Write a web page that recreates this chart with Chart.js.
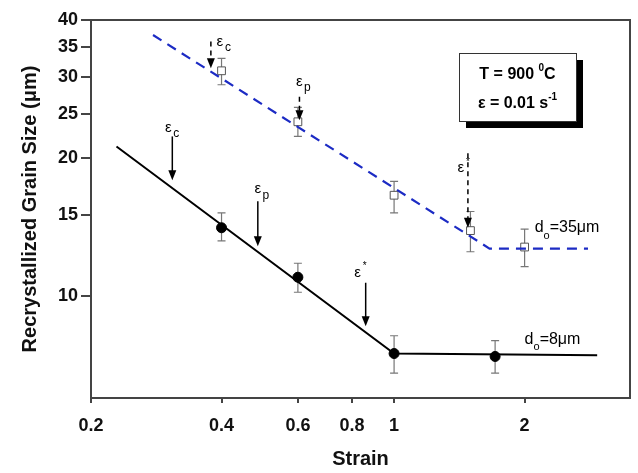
<!DOCTYPE html>
<html>
<head>
<meta charset="utf-8">
<script src="https://cdn.jsdelivr.net/npm/chart.js@4.4.1/dist/chart.umd.min.js"></script>
<style>
  body { margin: 0; background: #fff; }
  #box { width: 638px; height: 473px; }
</style>
</head>
<body>
<div id="box"><canvas id="grafico"></canvas></div>
<script>
// valores (escala log-log)
const xTicks = [0.2, 0.4, 0.6, 0.8, 1, 2];
const yTicks = [10, 15, 20, 25, 30, 35, 40];

// d0 = 8 um (pontos cheios + reta preta)
const strain8 = [0.4, 0.6, 1, 1.71];
const size8 = [14.1, 11.0, 7.5, 7.39];
const err8Low = [13.2, 10.2, 6.8, 6.8];
const err8High = [15.2, 11.8, 8.2, 8.0];
const fit8X = [0.229, 1, 2.94];
const fit8Y = [21.2, 7.5, 7.44];

// d0 = 35 um (quadrados abertos + tracejado azul)
const strain35 = [0.4, 0.6, 1, 1.5, 2];
const size35 = [31.0, 24.0, 16.6, 13.9, 12.8];
const err35Low = [28.9, 22.3, 15.2, 12.5, 11.6];
const err35High = [33.0, 25.8, 17.8, 15.3, 14.0];
const fit35X = [0.278, 1.66, 2.8];
const fit35Y = [37.1, 12.7, 12.7];

// setas (eps_c, eps_p, eps*)
const arrowX = [0.308, 0.485, 0.86, 0.378, 0.605, 1.48];
const arrowFrom = [22.3, 16.1, 10.7, 35.9, 27.2, 20.5];
const arrowTo = [17.9, 12.85, 8.6, 31.4, 24.2, 14.1];
const arrowSub = ['c', 'p', '*', 'c', 'p', '*'];
const arrowDashed = [false, false, false, true, true, true];

const pares = (xs, ys) => xs.map((x, i) => ({ x: x, y: ys[i] }));

// barras de erro
const barrasErro = {
  id: 'barrasErro',
  beforeDatasetsDraw(chart) {
    const ctx = chart.ctx;
    const sx = chart.scales.x, sy = chart.scales.y;
    const grupos = [[strain8, err8Low, err8High], [strain35, err35Low, err35High]];
    ctx.save();
    ctx.strokeStyle = '#777';
    ctx.lineWidth = 1.2;
    grupos.forEach(g => {
      g[0].forEach((x, i) => {
        const px = sx.getPixelForValue(x);
        const y1 = sy.getPixelForValue(g[1][i]);
        const y2 = sy.getPixelForValue(g[2][i]);
        ctx.beginPath();
        ctx.moveTo(px, y1); ctx.lineTo(px, y2);
        ctx.moveTo(px - 4, y1); ctx.lineTo(px + 4, y1);
        ctx.moveTo(px - 4, y2); ctx.lineTo(px + 4, y2);
        ctx.stroke();
      });
    });
    ctx.restore();
  }
};

// moldura, setas, textos e caixa
const anotacoes = {
  id: 'anotacoes',
  afterDatasetsDraw(chart) {
    const ctx = chart.ctx;
    const a = chart.chartArea;
    const sx = chart.scales.x, sy = chart.scales.y;
    ctx.save();

    // moldura
    ctx.strokeStyle = '#444';
    ctx.lineWidth = 2;
    ctx.strokeRect(a.left, a.top, a.right - a.left, a.bottom - a.top);

    // setas
    const offs = [[-4, -9], [0, -12], [-8, -10], [9, 0], [0, -15], [-7, 15]];
    arrowX.forEach((x, i) => {
      const px = sx.getPixelForValue(x);
      const y1 = sy.getPixelForValue(arrowFrom[i]);
      const y2 = sy.getPixelForValue(arrowTo[i]);
      ctx.strokeStyle = '#000';
      ctx.fillStyle = '#000';
      ctx.lineWidth = 1.5;
      ctx.setLineDash(arrowDashed[i] ? [5, 4] : []);
      ctx.beginPath();
      ctx.moveTo(px, y1);
      ctx.lineTo(px, y2 - 8);
      ctx.stroke();
      ctx.setLineDash([]);
      ctx.beginPath();
      ctx.moveTo(px - 4, y2 - 10);
      ctx.lineTo(px + 4, y2 - 10);
      ctx.lineTo(px, y2);
      ctx.closePath();
      ctx.fill();

      const lx = px + offs[i][0], ly = y1 + offs[i][1];
      ctx.font = '15px "Liberation Sans", Arial, sans-serif';
      ctx.textAlign = 'center';
      ctx.textBaseline = 'middle';
      ctx.fillText('\u03b5', lx, ly);
      if (arrowSub[i] === '*') {
        ctx.font = '10px "Liberation Sans", Arial, sans-serif';
        ctx.fillText('*', lx + 7, ly - 6);
      } else {
        ctx.font = '12px "Liberation Sans", Arial, sans-serif';
        ctx.fillText(arrowSub[i], lx + 8, ly + 6);
      }
    });

    // rótulos d0
    const rot = [[2.11, 14.1, '35'], [2.0, 8.05, '8']];
    rot.forEach(r => {
      let px = sx.getPixelForValue(r[0]);
      const py = sy.getPixelForValue(r[1]);
      ctx.textAlign = 'left';
      ctx.textBaseline = 'middle';
      ctx.font = '16px "Liberation Sans", Arial, sans-serif';
      ctx.fillText('d', px, py);
      px += ctx.measureText('d').width;
      ctx.font = '11px "Liberation Sans", Arial, sans-serif';
      ctx.fillText('o', px, py + 8);
      px += ctx.measureText('o').width;
      ctx.font = '16px "Liberation Sans", Arial, sans-serif';
      ctx.fillText('=' + r[2] + '\u03bcm', px, py);
    });

    // caixa com sombra
    const bx = a.left + 368, by = a.top + 33, bw = 117, bh = 68;
    ctx.fillStyle = '#000';
    ctx.fillRect(bx + 7, by + 7, bw, bh);
    ctx.fillStyle = '#fff';
    ctx.fillRect(bx, by, bw, bh);
    ctx.strokeStyle = '#333';
    ctx.lineWidth = 1;
    ctx.strokeRect(bx + 0.5, by + 0.5, bw, bh);

    ctx.fillStyle = '#000';
    ctx.textBaseline = 'middle';
    ctx.textAlign = 'left';
    const linha = (partes, y) => {
      let w = 0;
      partes.forEach(p => { ctx.font = p[1]; w += ctx.measureText(p[0]).width; });
      let x = bx + bw / 2 - w / 2;
      partes.forEach(p => {
        ctx.font = p[1];
        ctx.fillText(p[0], x, y + p[2]);
        x += ctx.measureText(p[0]).width;
      });
    };
    const fb = 'bold 16px "Liberation Sans", Arial, sans-serif';
    const fs = 'bold 10px "Liberation Sans", Arial, sans-serif';
    linha([['T = 900 ', fb, 0], ['0', fs, -7], ['C', fb, 0]], by + 22);
    linha([['\u03b5 = 0.01 s', fb, 0], ['-1', fs, -7]], by + 51);

    ctx.restore();
  }
};

const ctx = document.getElementById('grafico').getContext('2d');
const grafico = new Chart(ctx, {
  type: 'scatter',
  data: {
    datasets: [
      {
        data: pares(fit35X, fit35Y),
        showLine: true,
        borderColor: '#1c2bc4',
        borderWidth: 2.2,
        borderDash: [10, 7],
        pointRadius: 0
      },
      {
        data: pares(fit8X, fit8Y),
        showLine: true,
        borderColor: '#000',
        borderWidth: 2,
        pointRadius: 0
      },
      {
        data: pares(strain35, size35),
        pointStyle: 'rect',
        pointRadius: 5.5,
        backgroundColor: '#fff',
        borderColor: '#555',
        borderWidth: 1
      },
      {
        data: pares(strain8, size8),
        pointStyle: 'circle',
        pointRadius: 5,
        backgroundColor: '#000',
        borderColor: '#000'
      }
    ]
  },
  options: {
    responsive: true,
    maintainAspectRatio: false,
    animation: false,
    layout: { padding: { left: 0, right: 8, top: 20, bottom: 0 } },
    plugins: { legend: { display: false }, tooltip: { enabled: false } },
    scales: {
      x: {
        type: 'logarithmic',
        min: 0.2,
        max: 3.5,
        afterBuildTicks: s => { s.ticks = xTicks.map(v => ({ value: v })); },
        afterFit: s => { s.height = 75; },
        grid: { drawOnChartArea: false, drawTicks: true, tickLength: 5, color: '#444', lineWidth: 2 },
        border: { display: true, color: '#444', width: 2 },
        ticks: {
          callback: v => String(v),
          color: '#111',
          padding: 12,
          maxRotation: 0,
          autoSkip: false,
          font: { family: '"Liberation Sans", Arial, sans-serif', size: 18, weight: 'bold' }
        },
        title: {
          display: true,
          text: 'Strain',
          color: '#111',
          padding: { top: 0, bottom: 2 },
          font: { family: '"Liberation Sans", Arial, sans-serif', size: 20, weight: 'bold' }
        }
      },
      y: {
        type: 'logarithmic',
        min: 6.0,
        max: 40,
        afterBuildTicks: s => { s.ticks = yTicks.map(v => ({ value: v })); },
        afterFit: s => { s.width = 91; },
        grid: { drawOnChartArea: false, drawTicks: true, tickLength: 10, color: '#444', lineWidth: 2 },
        border: { display: true, color: '#444', width: 2 },
        ticks: {
          callback: v => String(v),
          color: '#111',
          padding: 3,
          autoSkip: false,
          font: { family: '"Liberation Sans", Arial, sans-serif', size: 18, weight: 'bold' }
        },
        title: {
          display: true,
          text: 'Recrystallized Grain Size (\u03bcm)',
          color: '#111',
          padding: { top: 18, bottom: 0 },
          font: { family: '"Liberation Sans", Arial, sans-serif', size: 20, weight: 'bold' }
        }
      }
    }
  },
  plugins: [barrasErro, anotacoes]
});
</script>
</body>
</html>
